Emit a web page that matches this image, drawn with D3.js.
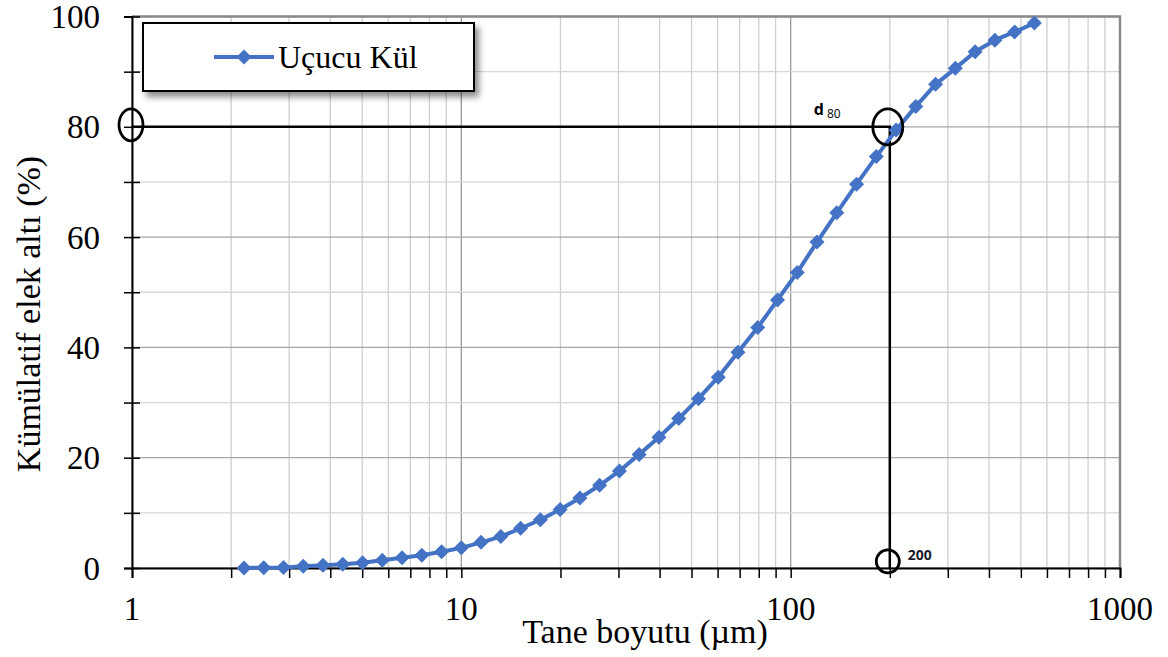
<!DOCTYPE html>
<html>
<head>
<meta charset="utf-8">
<script src="https://cdn.jsdelivr.net/npm/d3@7"></script>
<style>
  body { margin: 0; background: #fff; }
  text { font-family: "Liberation Serif", "Times New Roman", serif; fill: #000; }
  .anno { font-family: "Open Sans", "Liberation Sans", sans-serif; font-weight: bold; }
</style>
</head>
<body>
<script>
// particle size (µm) and cumulative passing (%)
var sizes = [2.188, 2.512, 2.884, 3.311, 3.802, 4.365, 5.012, 5.754, 6.607, 7.586,
  8.710, 10.0, 11.48, 13.18, 15.14, 17.38, 19.95, 22.91, 26.30, 30.20,
  34.67, 39.81, 45.71, 52.48, 60.26, 69.18, 79.43, 91.20, 104.7, 120.2,
  138.0, 158.5, 182.0, 208.9, 239.9, 275.4, 316.2, 363.1, 416.9, 478.6, 549.5];
var passing = [0, 0.05, 0.1, 0.3, 0.5, 0.7, 0.95, 1.4, 1.85, 2.3,
  2.95, 3.65, 4.65, 5.7, 7.2, 8.75, 10.6, 12.7, 15.0, 17.6,
  20.6, 23.7, 27.1, 30.7, 34.6, 39.1, 43.6, 48.6, 53.6, 59.1,
  64.4, 69.6, 74.6, 79.4, 83.7, 87.7, 90.6, 93.6, 95.7, 97.2, 98.8];
var xTickLabels = [1, 10, 100, 1000];
var yTickLabels = [0, 20, 40, 60, 80, 100];
var seriesName = "Uçucu Kül";
var d80 = { size: 200, pct: 80, footPct: 1.2 };

var svgWidth = 1168;
var svgHeight = 657;
var margin = { top: 16.5, right: 48, bottom: 89, left: 132 };
var width = svgWidth - margin.left - margin.right;
var height = svgHeight - margin.top - margin.bottom;

var svg = d3.select("body").append("svg")
  .attr("width", svgWidth)
  .attr("height", svgHeight);

svg.append("rect").attr("width", svgWidth).attr("height", svgHeight).attr("fill", "#fff");

var defs = svg.append("defs");
var shadow = defs.append("filter").attr("id", "shadow")
  .attr("x", "-10%").attr("y", "-20%").attr("width", "130%").attr("height", "160%");
shadow.append("feDropShadow")
  .attr("dx", 4).attr("dy", 5).attr("stdDeviation", 3)
  .attr("flood-color", "#000").attr("flood-opacity", 0.45);

var g = svg.append("g").attr("transform", `translate(${margin.left},${margin.top})`);

var x = d3.scaleLog().domain([1, 1000]).range([0, width]);
var y = d3.scaleLinear().domain([0, 100]).range([height, 0]);

// all log ticks 1..9 per decade
var xAll = x.ticks();
var yAll = d3.range(0, 101, 10);

// gridlines
g.append("g").selectAll("line").data(xAll).enter().append("line")
  .attr("x1", d => x(d)).attr("x2", d => x(d))
  .attr("y1", 0).attr("y2", height)
  .attr("stroke", d => xTickLabels.indexOf(d) >= 0 ? "#9a9a9a" : "#cfcfcf")
  .attr("stroke-width", 1.3);

g.append("g").selectAll("line").data(yAll).enter().append("line")
  .attr("x1", 0).attr("x2", width)
  .attr("y1", d => y(d)).attr("y2", d => y(d))
  .attr("stroke", d => d % 20 === 0 ? "#a6a6a6" : "#d6d6d6")
  .attr("stroke-width", 1.3);

// top / right frame
g.append("path")
  .attr("d", `M0,0 H${width} V${height}`)
  .attr("fill", "none").attr("stroke", "#8a8a8a").attr("stroke-width", 2.5);

// x axis
var xAxis = g.append("g").attr("transform", `translate(0,${height})`)
  .call(d3.axisBottom(x).tickValues(xAll).tickSize(10).tickFormat(""));
xAxis.select(".domain").attr("stroke", "#000").attr("stroke-width", 2);
xAxis.selectAll(".tick line").attr("stroke", "#000").attr("stroke-width", 1.5);

g.append("g").selectAll("text").data(xTickLabels).enter().append("text")
  .attr("x", d => x(d)).attr("y", height + 52)
  .attr("text-anchor", "middle")
  .style("font-size", "33px")
  .text(d => d);

// y axis
var yAxis = g.append("g")
  .call(d3.axisLeft(y).tickValues(yAll).tickSize(8).tickFormat(""));
yAxis.select(".domain").attr("stroke", "#000").attr("stroke-width", 2);
yAxis.selectAll(".tick line").attr("stroke", "#000").attr("stroke-width", 1.5).attr("x2", 8).attr("x1", -8);

g.append("g").selectAll("text").data(yTickLabels).enter().append("text")
  .attr("x", -32).attr("y", d => y(d))
  .attr("dy", "0.35em")
  .attr("text-anchor", "end")
  .style("font-size", "33px")
  .text(d => d);

// axis titles
svg.append("text")
  .attr("x", 645).attr("y", 643)
  .attr("text-anchor", "middle")
  .style("font-size", "34px")
  .text("Tane boyutu (µm)");

svg.append("text")
  .attr("transform", "translate(40,314) rotate(-90)")
  .attr("text-anchor", "middle")
  .style("font-size", "34px")
  .text("Kümülatif elek altı (%)");

// d80 guide lines
g.append("path")
  .attr("d", `M${x(1)},${y(d80.pct)} H${x(d80.size)} V${y(0)}`)
  .attr("fill", "none").attr("stroke", "#000").attr("stroke-width", 2.5);

// series
var pts = sizes.map((s, i) => [s, passing[i]]);
var line = d3.line().x(d => x(d[0])).y(d => y(d[1]));
g.append("path").datum(pts)
  .attr("d", line)
  .attr("fill", "none").attr("stroke", "#4472C4").attr("stroke-width", 4)
  .attr("stroke-linejoin", "round");

var diamond = "M0,-7.5L7.5,0L0,7.5L-7.5,0Z";
g.append("g").selectAll("path").data(pts).enter().append("path")
  .attr("d", diamond)
  .attr("transform", d => `translate(${x(d[0])},${y(d[1])})`)
  .attr("fill", "#4472C4");

// circles marking the reading
var marks = [
  { s: 1, p: d80.pct, rx: 12, ry: 16 },
  { s: d80.size, p: d80.pct, rx: 15, ry: 18 },
  { s: d80.size, p: d80.footPct, rx: 11.5, ry: 11.5 }
];
g.append("g").selectAll("ellipse").data(marks).enter().append("ellipse")
  .attr("cx", d => x(d.s) - (d.s === 1 ? 1 : 2))
  .attr("cy", d => y(d.p) - (d.s === 1 ? 2 : 0))
  .attr("rx", d => d.rx).attr("ry", d => d.ry)
  .attr("fill", "none").attr("stroke", "#000").attr("stroke-width", 2.8);

// annotation labels
var d80Label = g.append("text").attr("class", "anno")
  .attr("x", x(d80.size) - 76).attr("y", y(d80.pct) - 12)
  .style("font-size", "16px");
d80Label.append("tspan").text("d");
d80Label.append("tspan").attr("dx", 3).attr("dy", 3).style("font-size", "12px").style("font-weight", "normal").text("80");

g.append("text").attr("class", "anno")
  .attr("x", x(d80.size) + 18).attr("y", y(d80.footPct) - 1)
  .style("font-size", "14px")
  .style("fill", "#1a1a2a")
  .text(d80.size);

// legend
var legend = svg.append("g").attr("transform", "translate(143,23)");
legend.append("rect")
  .attr("width", 331).attr("height", 68)
  .attr("fill", "#fff").attr("stroke", "#000").attr("stroke-width", 2)
  .attr("filter", "url(#shadow)");
legend.append("line")
  .attr("x1", 71).attr("x2", 131).attr("y1", 34).attr("y2", 34)
  .attr("stroke", "#4472C4").attr("stroke-width", 4);
legend.append("path").attr("d", diamond)
  .attr("transform", "translate(101,34)").attr("fill", "#4472C4");
legend.append("text")
  .attr("x", 135).attr("y", 45)
  .style("font-size", "32px")
  .text(seriesName);
</script>
</body>
</html>
